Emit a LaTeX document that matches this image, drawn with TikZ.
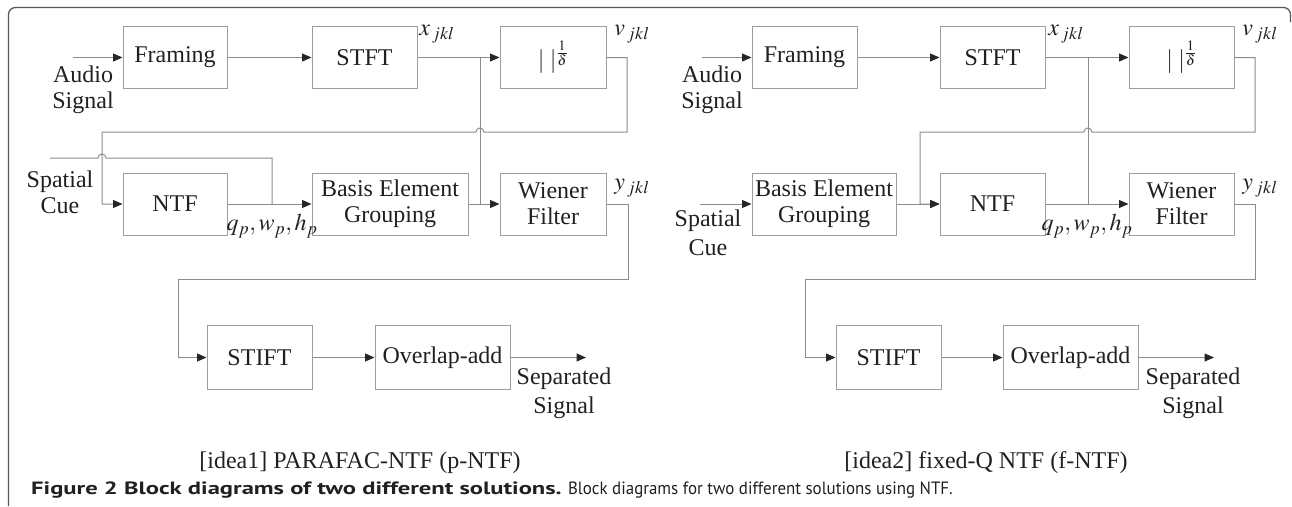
\documentclass[tikz,border=0pt]{standalone}
\usepackage{mathptmx}
\usepackage{fontspec}
\setmainfont{Liberation Serif}
\newfontfamily\capfont{PT Sans}
\usetikzlibrary{arrows.meta}

\definecolor{boxgray}{gray}{0.62}
\definecolor{linegray}{gray}{0.55}
\definecolor{txt}{HTML}{231F20}
\definecolor{framegray}{gray}{0.35}

\tikzset{
  blk/.style={draw=boxgray, line width=1pt, minimum height=62pt, inner sep=0pt,
    align=center, text=txt, font=\rmfamily\fontsize{24}{26}\selectfont},
  ln/.style={draw=linegray, line width=1pt},
  arr/.style={ln, -{Triangle[length=9.5pt,width=8pt,color=black!85]}},
  lab/.style={inner sep=0pt, align=center, text=txt, font=\rmfamily\fontsize{24}{26}\selectfont},
  lowlab/.style={lab, font=\rmfamily\fontsize{24}{29}\selectfont},
}

\begin{document}
\begin{tikzpicture}[x=1pt,y=-1pt]
  \useasboundingbox (0,0) rectangle (1292,506);

  % frame of the figure
  \draw[framegray, line width=1.3pt, rounded corners=7pt]
    (8.5,506) -- (8.5,7.5) -- (1290.5,7.5) -- (1290.5,22);

  % ---------- [idea1] ----------
  % blocks
  \node[blk, minimum width=104pt] (frmA)  at (175,57.5)   {Framing};
  \node[blk, minimum width=105pt] (stftA) at (364.5,57.5) {STFT};
  \node[blk, minimum width=106pt] (magA)  at (553,57.5)   {$|\;|^{\frac{1}{\delta}}$};
  \node[blk, minimum width=104pt] (ntfA)  at (175,204)    {NTF};
  \node[blk, minimum width=156pt] (basA)  at (390,204)    {Basis Element\\Grouping};
  \node[blk, minimum width=106pt] (wnrA)  at (553,204)    {Wiener\\Filter};
  \node[blk, minimum width=105pt, minimum height=64pt] (istA) at (259.5,357.5) {STIFT};
  \node[blk, minimum width=135pt, minimum height=64pt] (olaA) at (442.5,357.5) {Overlap-add};

  % free ends
  \coordinate (inA)  at (73,57.5);
  \coordinate (scA)  at (50,158);
  \coordinate (xbA)  at (480,57.5);
  \coordinate (outA) at (586,357.5);

  % connectors
  \draw[arr] (inA) -- (frmA);
  \draw[arr] (frmA) -- (stftA);
  \draw[arr] (stftA) -- (magA);
  \draw[ln] (xbA) -- (xbA |- wnrA.west);
  \draw[arr] (magA.east) -- (627,57.5) -- (627,132) -- (484,132)
    arc[start angle=0, end angle=-180, radius=4] -- (102,132) -- (102,204) -- (ntfA.west);
  \draw[ln] (scA) -- (98,158) arc[start angle=180, end angle=360, radius=4]
    -- (272,158) -- (272,204);
  \draw[arr] (ntfA) -- (basA);
  \draw[arr] (basA) -- (wnrA);
  \draw[arr] (wnrA.east) -- (628,204) -- (628,279) -- (178,279) -- (178,357.5) -- (istA.west);
  \draw[arr] (istA) -- (olaA);
  \draw[arr] (olaA) -- (outA);

  % labels
  \node[lab] (audA) at (83,90)   {Audio\\Signal};
  \node[lab] (spaA) at (60,192)  {Spatial\\Cue};
  \node[lab] (xA)   at (437,34)  {$x_{\,jkl}$};
  \node[lab] (vA)   at (632,34)  {$v_{\,jkl}$};
  \node[lab] (yA)   at (632,188) {$y_{\,jkl}$};
  \node[lab] (qA)   at (272,226) {$q_p,w_p,h_p$};
  \node[lowlab] (sepA) at (564,393) {Separated\\Signal};
  \node[lab] (ttlA) at (360,463) {[idea1] PARAFAC-NTF (p-NTF)};

  % ---------- [idea2] ----------
  % blocks
  \node[blk, minimum width=105pt] (frmB)  at (804.5,57.5)  {Framing};
  \node[blk, minimum width=105pt] (stftB) at (992.5,57.5)  {STFT};
  \node[blk, minimum width=105pt] (magB)  at (1181.5,57.5) {$|\;|^{\frac{1}{\delta}}$};
  \node[blk, minimum width=144pt] (basB)  at (824,204)     {Basis Element\\Grouping};
  \node[blk, minimum width=105pt] (ntfB)  at (992.5,204)   {NTF};
  \node[blk, minimum width=105pt] (wnrB)  at (1181.5,204)  {Wiener\\Filter};
  \node[blk, minimum width=105pt, minimum height=64pt] (istB) at (888.5,357.5)  {STIFT};
  \node[blk, minimum width=135pt, minimum height=64pt] (olaB) at (1070.5,357.5) {Overlap-add};

  % free ends
  \coordinate (inB)  at (702,57.5);
  \coordinate (scB)  at (700,204);
  \coordinate (xbB)  at (1088,57.5);
  \coordinate (outB) at (1214,357.5);

  % connectors
  \draw[arr] (inB) -- (frmB);
  \draw[arr] (frmB) -- (stftB);
  \draw[arr] (stftB) -- (magB);
  \draw[ln] (xbB) -- (xbB |- wnrB.west);
  \draw[arr] (magB.east) -- (1255,57.5) -- (1255,132) -- (1092,132)
    arc[start angle=0, end angle=-180, radius=4] -- (920,132) -- (920,204) -- (ntfB.west);
  \draw[arr] (scB) -- (basB);
  \draw[arr] (basB) -- (ntfB);
  \draw[arr] (ntfB) -- (wnrB);
  \draw[arr] (wnrB.east) -- (1255,204) -- (1255,279) -- (805,279) -- (805,357.5) -- (istB.west);
  \draw[arr] (istB) -- (olaB);
  \draw[arr] (olaB) -- (outB);

  % labels
  \node[lab] (audB) at (712,90)   {Audio\\Signal};
  \node[lowlab] (spaB) at (708,233)  {Spatial\\Cue};
  \node[lab] (xB)   at (1066,34)  {$x_{\,jkl}$};
  \node[lab] (vB)   at (1260,34)  {$v_{\,jkl}$};
  \node[lab] (yB)   at (1260,188) {$y_{\,jkl}$};
  \node[lab] (qB)   at (1087,226) {$q_p,w_p,h_p$};
  \node[lowlab] (sepB) at (1193,393) {Separated\\Signal};
  \node[lab] (ttlB) at (986,463)  {[idea2] fixed-Q NTF (f-NTF)};

  % caption
  \node[anchor=west, inner sep=0pt, text=txt, font=\capfont\fontsize{17.8}{20}\selectfont] (cap) at (31,490)
    {{\bfseries\addfontfeature{FakeStretch=1.38}Figure 2 Block diagrams of two different solutions.}
     {\addfontfeature{FakeStretch=0.95}Block diagrams for two different solutions using NTF.}};
\end{tikzpicture}
\end{document}
